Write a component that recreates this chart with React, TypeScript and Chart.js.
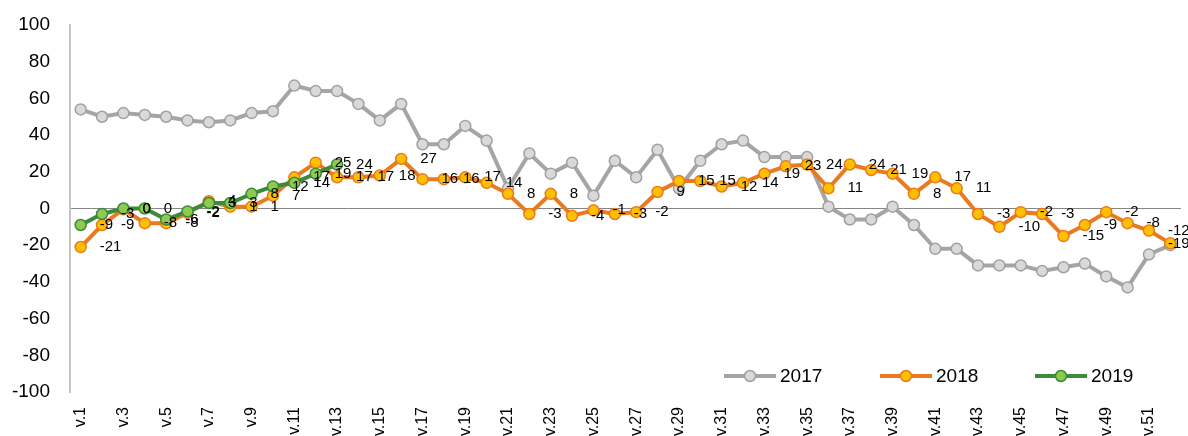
import React, { useEffect, useRef } from "react";
import { Chart, registerables } from "chart.js";

Chart.register(...registerables);

const weeks = [
  "v.1", "v.2", "v.3", "v.4", "v.5", "v.6", "v.7", "v.8", "v.9", "v.10",
  "v.11", "v.12", "v.13", "v.14", "v.15", "v.16", "v.17", "v.18", "v.19", "v.20",
  "v.21", "v.22", "v.23", "v.24", "v.25", "v.26", "v.27", "v.28", "v.29", "v.30",
  "v.31", "v.32", "v.33", "v.34", "v.35", "v.36", "v.37", "v.38", "v.39", "v.40",
  "v.41", "v.42", "v.43", "v.44", "v.45", "v.46", "v.47", "v.48", "v.49", "v.50",
  "v.51", "v.52",
];

const values2017 = [
  54, 50, 52, 51, 50, 48, 47, 48, 52, 53,
  67, 64, 64, 57, 48, 57, 35, 35, 45, 37,
  11, 30, 19, 25, 7, 26, 17, 32, 11, 26,
  35, 37, 28, 28, 28, 1, -6, -6, 1, -9,
  -22, -22, -31, -31, -31, -34, -32, -30, -37, -43,
  -25, -20,
];

const values2018 = [
  -21, -9, -0.4, -8, -8, -2.4, 4, 1, 1, 7,
  17, 25, 17, 17, 18, 27, 16, 16, 17, 14,
  8, -3, 8, -4, -1, -3, -2, 9, 15, 15,
  12, 14, 19, 23, 24, 11, 24, 21, 19, 8,
  17, 11, -3, -10, -2, -3, -15, -9, -2, -8,
  -12, -19,
];

const values2019 = [-9, -3, 0, 0, -6, -1.6, 3, 3, 8, 12, 14, 19, 24];

const yTicks = [-100, -80, -60, -40, -20, 0, 20, 40, 60, 80, 100];

const FONT = '"Liberation Sans", Arial, sans-serif';

const labelPlugin = {
  id: "pointValueLabels",
  afterDatasetsDraw(chart: any) {
    const { ctx, chartArea } = chart;
    ctx.save();
    ctx.font = `15px ${FONT}`;
    ctx.fillStyle = "#000000";
    ctx.textBaseline = "middle";
    ctx.textAlign = "left";
    chart.data.datasets.forEach((ds: any, di: number) => {
      if (!ds.showValueLabels) return;
      const meta = chart.getDatasetMeta(di);
      meta.data.forEach((pt: any, i: number) => {
        const v = ds.data[i];
        if (v === null || v === undefined) return;
        const text = String(Math.round(v) === 0 ? 0 : Math.round(v));
        const x = Math.min(pt.x + 19, chartArea.right - 13);
        ctx.fillText(text, x, pt.y);
      });
    });
    ctx.restore();
  },
};

const legendPlugin = {
  id: "lineMarkerLegend",
  afterDraw(chart: any) {
    const { ctx } = chart;
    const starts = [724, 880, 1035];
    const y = 376;
    ctx.save();
    ctx.font = `19px ${FONT}`;
    ctx.textBaseline = "middle";
    ctx.textAlign = "left";
    chart.data.datasets.forEach((ds: any, i: number) => {
      const x0 = starts[i];
      ctx.strokeStyle = ds.borderColor;
      ctx.lineWidth = 4;
      ctx.beginPath();
      ctx.moveTo(x0, y);
      ctx.lineTo(x0 + 52, y);
      ctx.stroke();
      ctx.beginPath();
      ctx.arc(x0 + 26, y, 5.5, 0, Math.PI * 2);
      ctx.fillStyle = ds.pointBackgroundColor;
      ctx.fill();
      ctx.lineWidth = 1.5;
      ctx.strokeStyle = ds.pointBorderColor;
      ctx.stroke();
      ctx.fillStyle = "#000000";
      ctx.fillText(ds.label, x0 + 56, y + 1);
    });
    ctx.restore();
  },
};

export default function App() {
  const canvasRef = useRef<HTMLCanvasElement | null>(null);

  useEffect(() => {
    document.body.style.margin = "0";
    document.body.style.overflow = "hidden";
    const canvas = canvasRef.current;
    if (!canvas) return;

    const chart = new Chart(canvas, {
      type: "line",
      data: {
        labels: weeks,
        datasets: [
          {
            label: "2017",
            data: values2017,
            borderColor: "#A5A5A5",
            borderWidth: 4,
            pointBackgroundColor: "#D9D9D9",
            pointBorderColor: "#A0A0A0",
            pointBorderWidth: 1.5,
            pointRadius: 5.5,
            tension: 0,
            order: 3,
          } as any,
          {
            label: "2018",
            data: values2018,
            borderColor: "#EA7A1E",
            borderWidth: 4,
            pointBackgroundColor: "#FFC000",
            pointBorderColor: "#EA7A1E",
            pointBorderWidth: 1.5,
            pointRadius: 5.5,
            tension: 0,
            order: 2,
            showValueLabels: true,
          } as any,
          {
            label: "2019",
            data: values2019,
            borderColor: "#3C8A3C",
            borderWidth: 4,
            pointBackgroundColor: "#8DCB4E",
            pointBorderColor: "#3C8A3C",
            pointBorderWidth: 1.5,
            pointRadius: 5.5,
            tension: 0,
            order: 1,
            showValueLabels: true,
          } as any,
        ],
      },
      options: {
        animation: false,
        responsive: false,
        maintainAspectRatio: false,
        layout: { padding: { top: 25, right: 0, bottom: 0, left: 0 } },
        plugins: {
          legend: { display: false },
          tooltip: { enabled: false },
        },
        scales: {
          x: {
            type: "category",
            offset: true,
            grid: { display: false, drawTicks: false },
            border: { display: false },
            ticks: {
              autoSkip: false,
              minRotation: 90,
              maxRotation: 90,
              padding: 15,
              color: "#000000",
              font: { family: FONT, size: 16 },
              callback: (_v: any, idx: number) => (idx % 2 === 0 ? weeks[idx] : ""),
            },
            afterFit: (scale: any) => {
              scale.height = 44;
              scale.paddingLeft = 0;
              scale.paddingRight = 0;
            },
          },
          y: {
            min: yTicks[0],
            max: yTicks[yTicks.length - 1],
            afterBuildTicks: (scale: any) => {
              scale.ticks = yTicks.map((v) => ({ value: v }));
            },
            grid: {
              drawTicks: false,
              color: (c: any) => (c.tick && c.tick.value === 0 ? "#868686" : "rgba(0,0,0,0)"),
              lineWidth: 1,
            },
            border: { display: true, color: "#C4C4C4", width: 2 },
            ticks: {
              padding: 20,
              color: "#000000",
              font: { family: FONT, size: 19 },
            },
            afterFit: (scale: any) => {
              scale.width = 70;
              scale.paddingTop = 0;
              scale.paddingBottom = 0;
            },
          },
        },
      },
      plugins: [labelPlugin, legendPlugin],
    });

    return () => {
      chart.destroy();
    };
  }, []);

  return (
    <div style={{ width: 1188, height: 436, overflow: "hidden" }}>
      <canvas ref={canvasRef} width={1188} height={436} style={{ display: "block" }} />
    </div>
  );
}
